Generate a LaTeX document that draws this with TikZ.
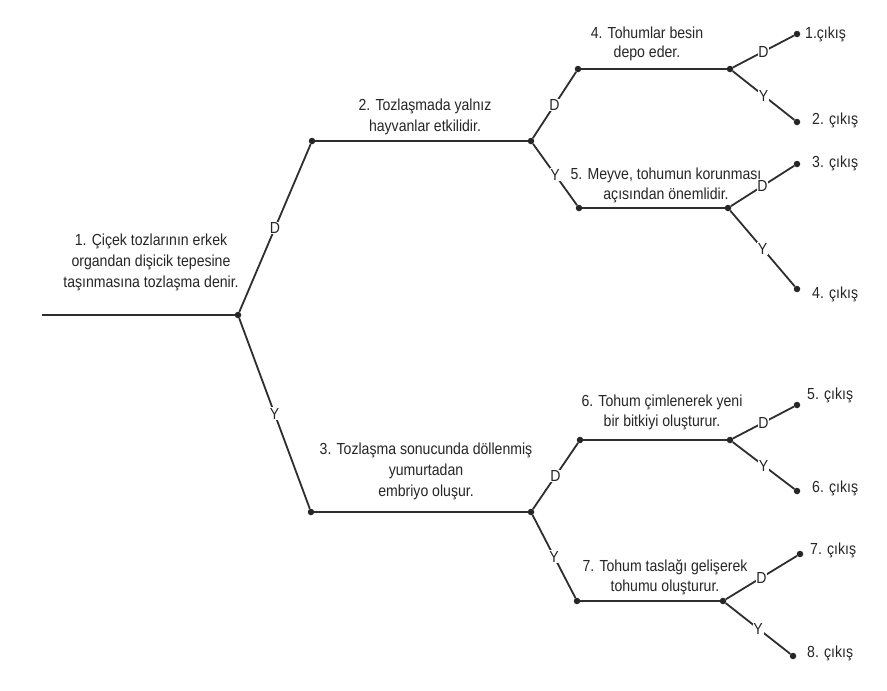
\documentclass[tikz,border=0pt]{standalone}
\usepackage{fontspec}
\setmainfont[FakeStretch=0.88]{Liberation Sans}
\usepackage{tikz}
\usetikzlibrary{positioning}

\begin{document}
\begin{tikzpicture}[
  x=1pt, y=-1pt,
  ln/.style={draw=black!82, line width=1.8pt},
  kn/.style={circle, fill=black!85, inner sep=0pt, minimum size=6.5pt},
  yn/.style={fill=white, inner sep=0.8pt, font=\fontsize{16}{16}\selectfont, text=black!85},
  txt/.style={align=center, inner sep=0pt, font=\fontsize{16}{21}\selectfont, text=black!85},
  exitlbl/.style={anchor=west, inner sep=0pt, font=\fontsize{16}{16}\selectfont, text=black!85},
]
\fill[white] (0,0) rectangle (887,691);
% Knots of the key
\coordinate (r0) at (42,315);
\node[kn] (n1)  at (238,315) {};
\node[kn] (n2l) at (312,141) {};
\node[kn] (n2r) at (531,141) {};
\node[kn] (n3l) at (311,512) {};
\node[kn] (n3r) at (531,512) {};
\node[kn] (n4l) at (578,69)  {};
\node[kn] (n4r) at (730,69)  {};
\node[kn] (n5l) at (579,208) {};
\node[kn] (n5r) at (728,208) {};
\node[kn] (n6l) at (580,440) {};
\node[kn] (n6r) at (730,440) {};
\node[kn] (n7l) at (577,601) {};
\node[kn] (n7r) at (723,601) {};
% Exits
\node[kn] (e1) at (797,34)  {};
\node[kn] (e2) at (797,122) {};
\node[kn] (e3) at (797,164) {};
\node[kn] (e4) at (797,289) {};
\node[kn] (e5) at (797,405) {};
\node[kn] (e6) at (797,491) {};
\node[kn] (e7) at (800,554) {};
\node[kn] (e8) at (793,656) {};
\node[exitlbl] (x1) at (805,34)  {1.çıkış};
\node[exitlbl] (x2) at (812,120) {2. çıkış};
\node[exitlbl] (x3) at (812,163) {3. çıkış};
\node[exitlbl] (x4) at (812,294) {4. çıkış};
\node[exitlbl] (x5) at (807,395) {5. çıkış};
\node[exitlbl] (x6) at (812,488) {6. çıkış};
\node[exitlbl] (x7) at (810,550) {7. çıkış};
\node[exitlbl] (x8) at (807,653) {8. çıkış};
% Statements
\node[txt] (q1) at (151,262) {1. Çiçek tozlarının erkek\\organdan dişicik tepesine\\taşınmasına tozlaşma denir.};
\node[txt] (q2) at (425,117) {2. Tozlaşmada yalnız\\hayvanlar etkilidir.};
\node[txt] (q3) at (426,471) {3. Tozlaşma sonucunda döllenmiş\\yumurtadan\\embriyo oluşur.};
\node[txt, font=\fontsize{16}{19}\selectfont] (q4) at (647,44) {4. Tohumlar besin\\depo eder.};
\node[txt, font=\fontsize{16}{20}\selectfont] (q5) at (666,185) {5. Meyve, tohumun korunması\\açısından önemlidir.};
\node[txt, font=\fontsize{16}{20}\selectfont] (q6) at (662,412) {6. Tohum çimlenerek yeni\\bir bitkiyi oluşturur.};
\node[txt, font=\fontsize{16}{20}\selectfont] (q7) at (665,577) {7. Tohum taslağı gelişerek\\tohumu oluşturur.};
% Lines
\draw[ln] (r0) -- (n1);
\draw[ln] (n1) -- node[yn]{D} (n2l);
\draw[ln] (n1) -- node[yn]{Y} (n3l);
\draw[ln] (n2l) -- (n2r);
\draw[ln] (n3l) -- (n3r);
\draw[ln] (n2r) -- node[yn]{D} (n4l);
\draw[ln] (n2r) -- node[yn]{Y} (n5l);
\draw[ln] (n3r) -- node[yn]{D} (n6l);
\draw[ln] (n3r) -- node[yn]{Y} (n7l);
\draw[ln] (n4l) -- (n4r);
\draw[ln] (n5l) -- (n5r);
\draw[ln] (n6l) -- (n6r);
\draw[ln] (n7l) -- (n7r);
\draw[ln] (n4r) -- node[yn]{D} (e1);
\draw[ln] (n4r) -- node[yn]{Y} (e2);
\draw[ln] (n5r) -- node[yn]{D} (e3);
\draw[ln] (n5r) -- node[yn]{Y} (e4);
\draw[ln] (n6r) -- node[yn]{D} (e5);
\draw[ln] (n6r) -- node[yn]{Y} (e6);
\draw[ln] (n7r) -- node[yn]{D} (e7);
\draw[ln] (n7r) -- node[yn]{Y} (e8);
\end{tikzpicture}
\end{document}
